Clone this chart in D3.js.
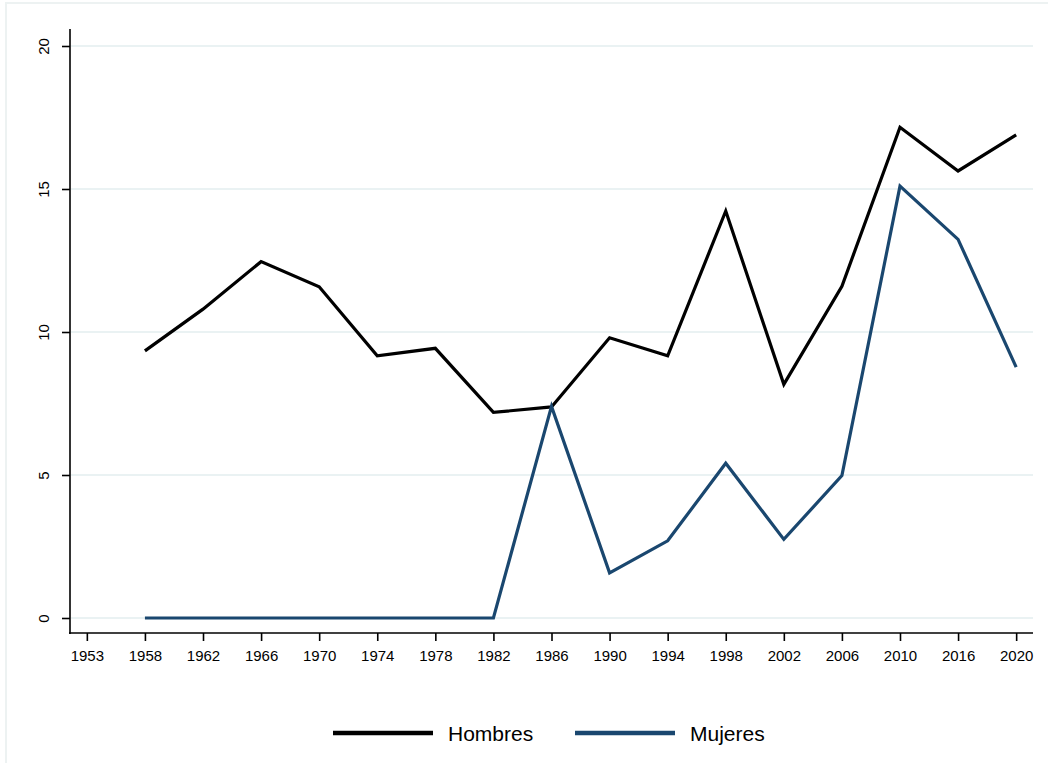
<!DOCTYPE html>
<html>
<head>
<meta charset="utf-8">
<script src="https://cdn.jsdelivr.net/npm/d3@7"></script>
<style>
  html, body { margin: 0; padding: 0; background: #fff; }
  svg { display: block; font-family: "Liberation Sans", Arial, sans-serif; }
</style>
</head>
<body>
<svg id="chart" width="1048" height="763"></svg>
<script>
const years = ["1953","1958","1962","1966","1970","1974","1978","1982","1986","1990","1994","1998","2002","2006","2010","2016","2020"];
const hombres = [null, 9.34, 10.8, 12.46, 11.58, 9.17, 9.43, 7.19, 7.38, 9.80, 9.17, 14.23, 8.17, 11.6, 17.16, 15.63, 16.89];
const mujeres = [null, 0, 0, 0, 0, 0, 0, 0, 7.40, 1.58, 2.70, 5.41, 2.75, 4.98, 15.10, 13.24, 8.77];
const yTicks = [0, 5, 10, 15, 20];
const seriesNames = ["Hombres", "Mujeres"];
const seriesColors = ["#000000", "#1a476f"];

const svg = d3.select("#chart");
const gridColor = "#eaf2f3";

// outer graph region border
svg.append("rect").attr("x", 6).attr("y", 3).attr("width", 1200).attr("height", 1000)
  .attr("fill", "none").attr("stroke", "#edf2f2").attr("stroke-width", 2);

const x = d3.scalePoint().domain(years).range([70, 1033]).padding(0.29);
const y = d3.scaleLinear().domain([0, 20]).range([618, 46]);

// gridlines
svg.append("g").selectAll("line").data(yTicks).join("line")
  .attr("x1", 71).attr("x2", 1033)
  .attr("y1", d => y(d)).attr("y2", d => y(d))
  .attr("stroke", gridColor).attr("stroke-width", 2);

// y axis
const yAxis = svg.append("g").attr("transform", "translate(70,0)")
  .call(d3.axisLeft(y).tickValues(yTicks).tickSize(8).tickSizeOuter(0));
yAxis.select(".domain").remove();
svg.append("line").attr("x1", 70).attr("x2", 70).attr("y1", 29).attr("y2", 634)
  .attr("stroke", "#000").attr("stroke-width", 1.6);
yAxis.selectAll(".tick line").attr("stroke", "#000").attr("stroke-width", 1.6);
yAxis.selectAll(".tick text")
  .attr("font-size", 15).attr("fill", "#000")
  .attr("text-anchor", "middle")
  .attr("transform", "rotate(-90)")
  .attr("x", 0).attr("y", -21).attr("dy", "0");

// x axis
const xAxis = svg.append("g").attr("transform", "translate(0,633)")
  .call(d3.axisBottom(x).tickSize(8).tickSizeOuter(0));
xAxis.select(".domain").remove();
svg.append("line").attr("x1", 69).attr("x2", 1033).attr("y1", 633).attr("y2", 633)
  .attr("stroke", "#000").attr("stroke-width", 1.6);
xAxis.selectAll(".tick line").attr("stroke", "#000").attr("stroke-width", 1.6);
xAxis.selectAll(".tick text").attr("font-size", 15).attr("fill", "#000").attr("y", 17).attr("dy", "0.71em");

// lines
const line = d3.line()
  .defined(d => d.v !== null)
  .x(d => x(d.year))
  .y(d => y(d.v));

[hombres, mujeres].forEach((vals, i) => {
  const data = years.map((yr, j) => ({ year: yr, v: vals[j] }));
  svg.append("path").datum(data)
    .attr("d", line)
    .attr("fill", "none")
    .attr("stroke", seriesColors[i])
    .attr("stroke-width", 3.2)
    .attr("stroke-linejoin", "miter");
});

// legend
const legendX = [333, 575];
seriesNames.forEach((name, i) => {
  const g = svg.append("g").attr("transform", `translate(${legendX[i]},733)`);
  g.append("line").attr("x1", 0).attr("x2", 100).attr("y1", 0).attr("y2", 0)
    .attr("stroke", seriesColors[i]).attr("stroke-width", 4.5);
  g.append("text").attr("x", 115).attr("y", 0).attr("dy", "0.36em")
    .attr("font-size", 21).attr("fill", "#000").text(name);
});
</script>
</body>
</html>
